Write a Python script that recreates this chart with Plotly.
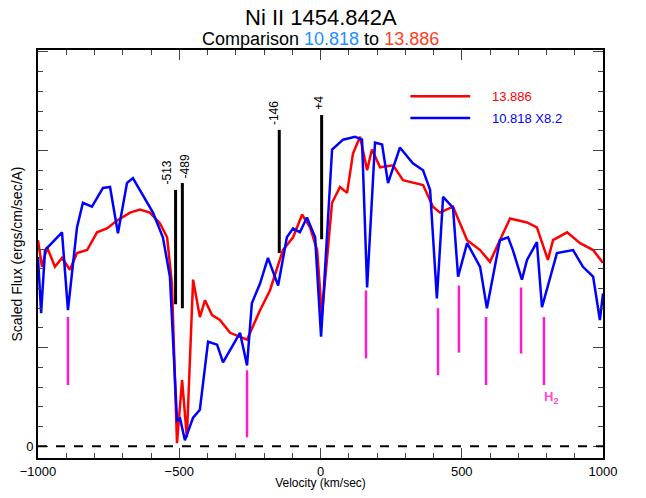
import plotly.graph_objs as go

# Data (velocity km/s, scaled flux)
red_vel = [-1000, -986, -968, -940, -915, -887, -862, -826, -791, -756, -720, -674, -639, -604, -568, -543, -526,
           -508, -490, -473, -451, -427, -409, -384, -356, -320, -260, -214, -179, -133, -97, -65, -37, -12, 5,
           41, 69, 94, 115, 140, 165, 182, 211, 257, 292, 363, 398, 423, 469, 519, 565, 600, 635, 671, 731, 766,
           805, 823, 873, 919, 965, 1000]
red_flux = [2.09, 1.82, 2.02, 1.82, 1.91, 1.79, 1.96, 1.99, 2.17, 2.21, 2.29, 2.37, 2.40, 2.37, 2.26, 2.12, 1.65,
            0.03, 0.67, 0.09, 1.69, 1.31, 1.48, 1.33, 1.28, 1.15, 1.08, 1.38, 1.58, 1.99, 2.12, 2.35, 2.22, 1.99, 1.33,
            2.47, 2.63, 2.57, 2.97, 3.14, 2.80, 3.01, 2.83, 2.85, 2.70, 2.65, 2.43, 2.37, 2.43, 2.09, 1.99, 1.87, 2.09,
            2.31, 2.27, 2.22, 1.89, 2.09, 2.17, 2.06, 1.99, 1.86]

blue_vel = [-1000, -989, -975, -915, -894, -862, -841, -809, -770, -745, -717, -685, -664, -639, -593, -558, -533,
            -508, -497, -480, -451, -427, -398, -366, -345, -285, -260, -243, -214, -186, -150, -119, -97, -73, -48,
            -19, 2, 41, 80, 122, 147, 165, 193, 218, 239, 281, 327, 363, 388, 412, 434, 469, 487, 519, 565, 589,
            635, 664, 681, 713, 731, 766, 784, 837, 894, 929, 965, 989, 1000]
blue_flux = [1.92, 1.35, 1.99, 2.17, 1.38, 2.22, 2.47, 2.43, 2.62, 2.63, 2.16, 2.67, 2.72, 2.60, 2.37, 2.12, 1.72,
             0.26, 0.28, 0.06, 0.29, 0.37, 1.06, 1.03, 0.85, 1.15, 0.82, 1.45, 1.65, 1.91, 1.63, 2.12, 2.21, 2.17, 2.32,
             2.12, 1.11, 3.01, 3.11, 3.14, 3.11, 1.61, 3.08, 3.06, 2.67, 3.03, 2.87, 2.80, 2.60, 1.50, 2.53, 2.42, 1.72,
             2.06, 1.82, 1.40, 2.09, 2.12, 1.99, 1.69, 1.89, 2.07, 1.41, 1.96, 1.99, 1.82, 1.72, 1.28, 1.55]

# Velocity component markers
comp_vel = [-513, -489, -146, 4]
comp_lo = [1.44, 1.40, 1.96, 2.10]
comp_hi = [2.60, 2.67, 3.21, 3.36]
comp_lab = ["-513", "-489", "-146", "+4"]
comp_shift = [-9, 3, -5, -3]

# H2 markers
h2_vel = [-894, -260, 161, 416, 490, 586, 710, 791]
h2_lo = [0.62, 0.09, 0.89, 0.72, 0.95, 0.62, 0.94, 0.62]
h2_hi = [1.31, 0.77, 1.58, 1.40, 1.63, 1.31, 1.61, 1.31]

fig = go.Figure()

fig.add_trace(go.Scatter(x=red_vel, y=red_flux, mode='lines', line=dict(color='red', width=2.5), showlegend=False))
fig.add_trace(go.Scatter(x=blue_vel, y=blue_flux, mode='lines', line=dict(color='blue', width=2.5), showlegend=False))

fig.add_hline(y=0, line=dict(color='black', dash='dash', width=2))

for v, lo, hi, lab, sh in zip(comp_vel, comp_lo, comp_hi, comp_lab, comp_shift):
    fig.add_shape(type='line', x0=v, x1=v, y0=lo, y1=hi, line=dict(color='black', width=3))
    fig.add_annotation(x=v, y=hi, text=lab, textangle=-90, showarrow=False, yanchor='bottom', yshift=3,
                       xshift=sh, font=dict(size=12, color='black'))

for v, lo, hi in zip(h2_vel, h2_lo, h2_hi):
    fig.add_shape(type='line', x0=v, x1=v, y0=lo, y1=hi, line=dict(color='#ff1acc', width=2.5))
fig.add_annotation(x=815, y=0.49, text='<b>H<sub>2</sub></b>', showarrow=False, font=dict(size=13, color='#ff4dd2'))

# Legend drawn in the plot
fig.add_shape(type='line', x0=318, x1=530, y0=3.55, y1=3.55, line=dict(color='red', width=2.5))
fig.add_shape(type='line', x0=318, x1=530, y0=3.33, y1=3.33, line=dict(color='blue', width=2.5))
fig.add_annotation(x=600, y=3.55, text='13.886', showarrow=False, xanchor='left', font=dict(size=13, color='red'))
fig.add_annotation(x=600, y=3.33, text='10.818 X8.2', showarrow=False, xanchor='left', font=dict(size=13, color='blue'))

# Titles
fig.add_annotation(xref='paper', yref='paper', x=0.5, y=1.0, yshift=18, yanchor='bottom', showarrow=False,
                   text='Ni II 1454.842A', font=dict(size=22, color='black'))
fig.add_annotation(xref='paper', yref='paper', x=0.5, y=1.0, yshift=-1, yanchor='bottom', showarrow=False,
                   text="Comparison <span style='color:#1e90ff'>10.818</span> to "
                        "<span style='color:#ff4020'>13.886</span>",
                   font=dict(size=18, color='black'))

fig.update_layout(
    width=630, height=482,
    margin=dict(l=30, r=35, t=42, b=32),
    font=dict(family='Liberation Sans', color='black'),
    plot_bgcolor='white', paper_bgcolor='white',
    xaxis=dict(range=[-1000, 1000], tickvals=[-1000, -500, 0, 500, 1000], ticks='inside', ticklen=10,
               minor=dict(dtick=100, ticks='inside', ticklen=5), showgrid=False, zeroline=False, automargin=False,
               showline=True, linecolor='black', linewidth=2, mirror='ticks',
               title=dict(text='Velocity (km/sec)', font=dict(size=12), standoff=5), tickfont=dict(size=13)),
    yaxis=dict(range=[-0.12, 4.02], tickvals=[0, 1, 2, 3, 4], ticktext=['0', '', '', '', ''], ticks='inside',
               ticklen=10, minor=dict(dtick=0.2, ticks='inside', ticklen=5), showgrid=False, zeroline=False,
               automargin=False, showline=True, linecolor='black', linewidth=2, mirror='ticks',
               title=dict(text='Scaled Flux (ergs/cm/sec/A)', font=dict(size=14), standoff=0), tickfont=dict(size=13)),
)

fig.write_html("out.html")
